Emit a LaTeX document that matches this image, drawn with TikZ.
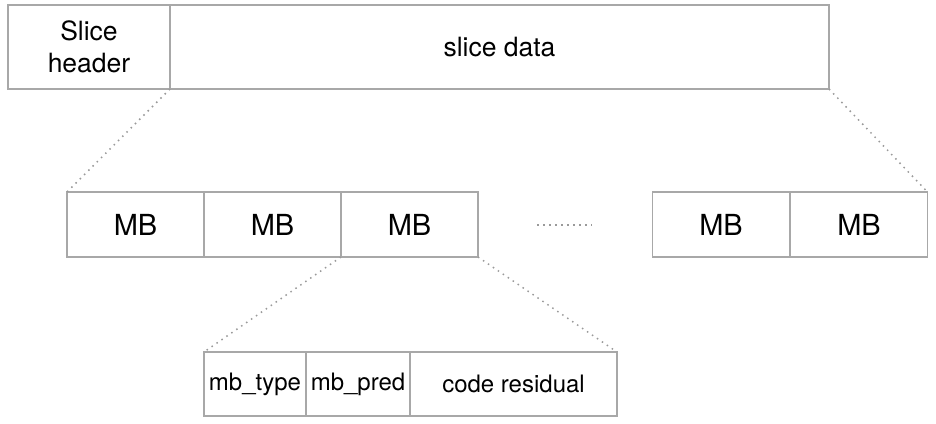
\documentclass[tikz,border=0pt]{standalone}
\usepackage{fontspec}
\setmainfont{TeX Gyre Heros}
\definecolor{boxgray}{HTML}{A8A8A8}
\definecolor{dotgray}{HTML}{9A9A9A}
\tikzset{
  field/.style={rectangle, draw=boxgray, line width=1.2pt, inner sep=0pt, outer sep=0pt,
    font=\fontsize{24}{29}\selectfont, align=center},
  topbox/.style={field, minimum height=84pt, font=\fontsize{26.5}{32}\selectfont},
  mbbox/.style={field, minimum width=137pt, minimum height=65pt, font=\fontsize{29}{33}\selectfont},
  zoomline/.style={draw=dotgray, line width=1.5pt, dash pattern=on 1.5pt off 4.5pt}
}
\begin{document}
\begin{tikzpicture}[x=1pt, y=-1pt]
  \useasboundingbox (0,0) rectangle (936,423);

  \node (head) at (89, 47) [topbox, minimum width=162pt] {Slice\\header};
  \node (data) at (499.5, 47) [topbox, minimum width=659pt] {slice data};

  \node (mb1) at (135.5, 224.5) [mbbox] {MB};
  \node (mb2) at (272.5, 224.5) [mbbox] {MB};
  \node (mb3) at (409.5, 224.5) [mbbox] {MB};
  \node (mb4) at (721, 224.5) [mbbox] {MB};
  \node (mb5) at (859, 224.5) [mbbox] {MB};

  \coordinate (gapl) at (537, 225);
  \coordinate (gapr) at (592, 225);
  \draw[zoomline] (gapl) -- (gapr);

  \node (type) at (255, 384) [field, minimum width=102pt, minimum height=64pt] {mb\_type};
  \node (pred) at (358, 384) [field, minimum width=104pt, minimum height=64pt] {mb\_pred};
  \node (resid) at (513.5, 384) [field, minimum width=207pt, minimum height=64pt] {code residual};

  \draw[zoomline] (head.south east) -- (mb1.north west);
  \draw[zoomline] (data.south east) -- (mb5.north east);
  \draw[zoomline] (mb3.south west) -- (type.north west);
  \draw[zoomline] (mb3.south east) -- (resid.north east);
\end{tikzpicture}
\end{document}
